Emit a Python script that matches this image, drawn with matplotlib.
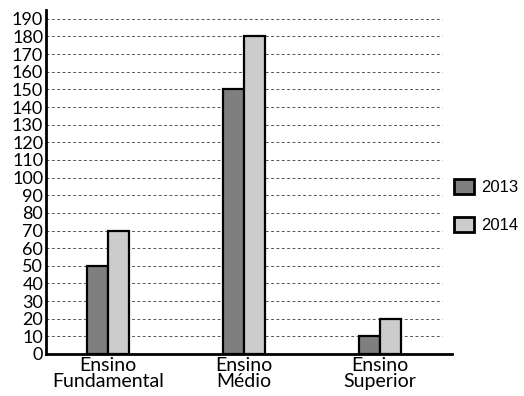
import matplotlib
matplotlib.use("Agg")
import matplotlib.pyplot as plt
import numpy as np

categories = ["Ensino\nFundamental", "Ensino\nMédio", "Ensino\nSuperior"]
series_names = ["2013", "2014"]
values_2013 = [50, 150, 10]
values_2014 = [70, 180, 20]
yticks = list(range(0, 200, 10))

colors = ["#7f7f7f", "#cccccc"]

fig = plt.figure(figsize=(5.24, 3.96), dpi=100)
ax = fig.add_axes([46 / 524, 1 - 354 / 396, 406 / 524, 344 / 396])

x = np.arange(len(categories))
w = 0.155
b1 = ax.bar(x - w / 2, values_2013, w, color=colors[0], edgecolor="black", linewidth=1.6, zorder=3)
b2 = ax.bar(x + w / 2, values_2014, w, color=colors[1], edgecolor="black", linewidth=1.6, zorder=3)

ax.set_xlim(-0.456, 2.53)
ax.set_ylim(0, 195)
ax.hlines(yticks[1:], -0.456, 2.456, colors="#555555", linestyles=(0, (3, 2.5)), linewidth=0.7, zorder=1)

ax.set_yticks(yticks)
ax.set_yticklabels([str(t) for t in yticks], fontfamily="Lato", fontsize=13)
ax.set_xticks(x)
ax.set_xticklabels(categories, fontfamily="Lato", fontsize=14, linespacing=0.9,
                   multialignment="center")
ax.tick_params(axis="y", length=0, pad=2)
ax.tick_params(axis="x", length=0, pad=2.5)

for s in ["top", "right"]:
    ax.spines[s].set_visible(False)
for s in ["left", "bottom"]:
    ax.spines[s].set_linewidth(2)
    ax.spines[s].set_zorder(4)

leg = fig.legend([b1, b2], series_names, loc="upper left",
                 bbox_to_anchor=(447 / 524, 1 - 172 / 396), frameon=False,
                 prop={"family": "Liberation Sans", "size": 12},
                 handlelength=1.2, handleheight=1.05, handletextpad=0.45,
                 labelspacing=1.3, borderaxespad=0)
for h in leg.legend_handles:
    h.set_linewidth(2)

fig.savefig("out.png", dpi=100)
